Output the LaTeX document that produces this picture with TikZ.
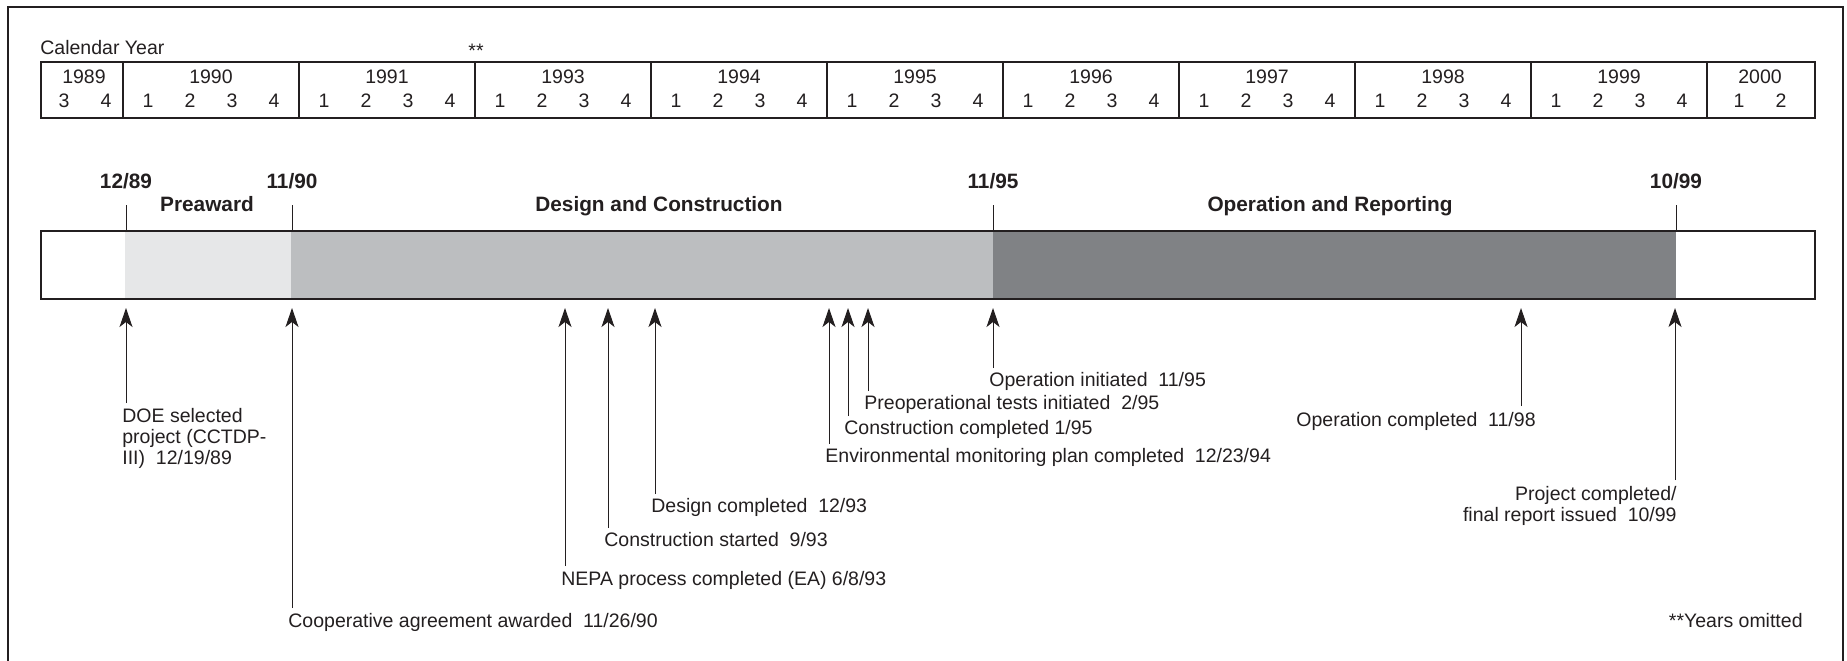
\documentclass[tikz,border=0pt]{standalone}
\usepackage{fontspec}
\setmainfont{Liberation Sans}
\usetikzlibrary{arrows.meta}
\definecolor{ink}{HTML}{231F20}
\definecolor{lgray}{HTML}{E6E7E8}
\definecolor{mgray}{HTML}{BCBEC0}
\definecolor{dgray}{HTML}{808285}
\begin{document}
\begin{tikzpicture}[x=0.5pt,y=-0.5pt,
  txt/.style={inner sep=0pt, font=\fontsize{9.75}{10.5}\selectfont, text=ink},
  btxt/.style={inner sep=0pt, font=\fontsize{10.4}{12}\selectfont\bfseries, text=ink},
  tbl/.style={draw=ink, line width=0.65pt},
  marker/.style={draw=ink, line width=0.5pt},
  evarrow/.style={draw=ink, line width=0.5pt, -{Stealth[length=9.5pt,width=6.5pt,inset=2.5pt]}},
]
\useasboundingbox (0,0) rectangle (1847,660);
% outer frame
\draw[ink, line width=1.4pt] (8,662) -- (8,7) -- (1843,7) -- (1843,662);

% calendar header
\node[txt, anchor=base west] (cal) at (40,54) {Calendar Year};
\node[txt, anchor=base] (omit) at (476,57) {**};
\draw[tbl] (41,62) rectangle (1815,118);
\foreach \k in {0,...,9} \draw[tbl] (123+176*\k,62) -- (123+176*\k,118);
\node[txt, anchor=base] (y1989) at (84,83) {1989};
\node[txt, anchor=base] (q19893) at (64,107) {3};
\node[txt, anchor=base] (q19894) at (106,107) {4};
\foreach \k/\yr in {0/1990,1/1991,2/1993,3/1994,4/1995,5/1996,6/1997,7/1998,8/1999} {
  \node[txt, anchor=base] (y\yr) at (211+176*\k,83) {\yr};
  \foreach \q in {1,...,4}
    \node[txt, anchor=base] (q\yr\q) at (106+176*\k+42*\q,107) {\q};
}
\node[txt, anchor=base] (y2000) at (1760,83) {2000};
\node[txt, anchor=base] (q20001) at (1739,107) {1};
\node[txt, anchor=base] (q20002) at (1781,107) {2};

% phase bar
\fill[white] (41,231) rectangle (125,299);
\fill[lgray] (125,231) rectangle (291,299);
\fill[mgray] (291,231) rectangle (993,299);
\fill[dgray] (993,231) rectangle (1676,299);
\fill[white] (1676,231) rectangle (1815,299);
\draw[ink, line width=1.15pt] (41,231) rectangle (1815,299);

% milestone dates above bar
\node[btxt, anchor=base] (m1) at (126,188) {12/89};
\node[btxt, anchor=base] (m2) at (292,188) {11/90};
\node[btxt, anchor=base] (m3) at (993,188) {11/95};
\node[btxt, anchor=base] (m4) at (1676,188) {10/99};
\foreach \x in {126,292,993,1676} \draw[marker] (\x,205) -- (\x,231);

% phase names
\node[btxt, anchor=base] (p1) at (207,211) {Preaward};
\node[btxt, anchor=base] (p2) at (659,211) {Design and Construction};
\node[btxt, anchor=base] (p3) at (1330,211) {Operation and Reporting};

% event tips and feet
\foreach \n/\x/\b in {a1/126/403, a2/292/608, a3/565/566, a4/608/528, a5/655/494,
                      a6/829/444, a7/848/416, a8/868/391, a9/993/368,
                      a10/1521/406, a11/1675/480} {
  \coordinate (\n tip) at (\x,308);
  \coordinate (\n foot) at (\x,\b);
  \draw[evarrow] (\n foot) -- (\n tip);
}

% event labels (multi-line nodes: base anchor = last line's baseline)
\node[txt, anchor=base west, align=left] (e1) at (122,464) {DOE selected\\project (CCTDP-\\III)~ 12/19/89};
\node[txt, anchor=base west] (e2) at (288,627) {Cooperative agreement awarded~ 11/26/90};
\node[txt, anchor=base west] (e3) at (561,585) {NEPA process completed (EA) 6/8/93};
\node[txt, anchor=base west] (e4) at (604,546) {Construction started~ 9/93};
\node[txt, anchor=base west] (e5) at (651,512) {Design completed~ 12/93};
\node[txt, anchor=base west] (e6) at (825,462) {Environmental monitoring plan completed~ 12/23/94};
\node[txt, anchor=base west] (e7) at (844,434) {Construction completed 1/95};
\node[txt, anchor=base west] (e8) at (864,409) {Preoperational tests initiated~ 2/95};
\node[txt, anchor=base west] (e9) at (989,386) {Operation initiated~ 11/95};
\node[txt, anchor=base east] (e10) at (1536,426) {Operation completed~ 11/98};
\node[txt, anchor=base east, align=right] (e11) at (1677,521) {Project completed/\\final report issued~ 10/99};
\node[txt, anchor=base east] (note) at (1803,627) {**Years omitted};
\end{tikzpicture}
\end{document}
